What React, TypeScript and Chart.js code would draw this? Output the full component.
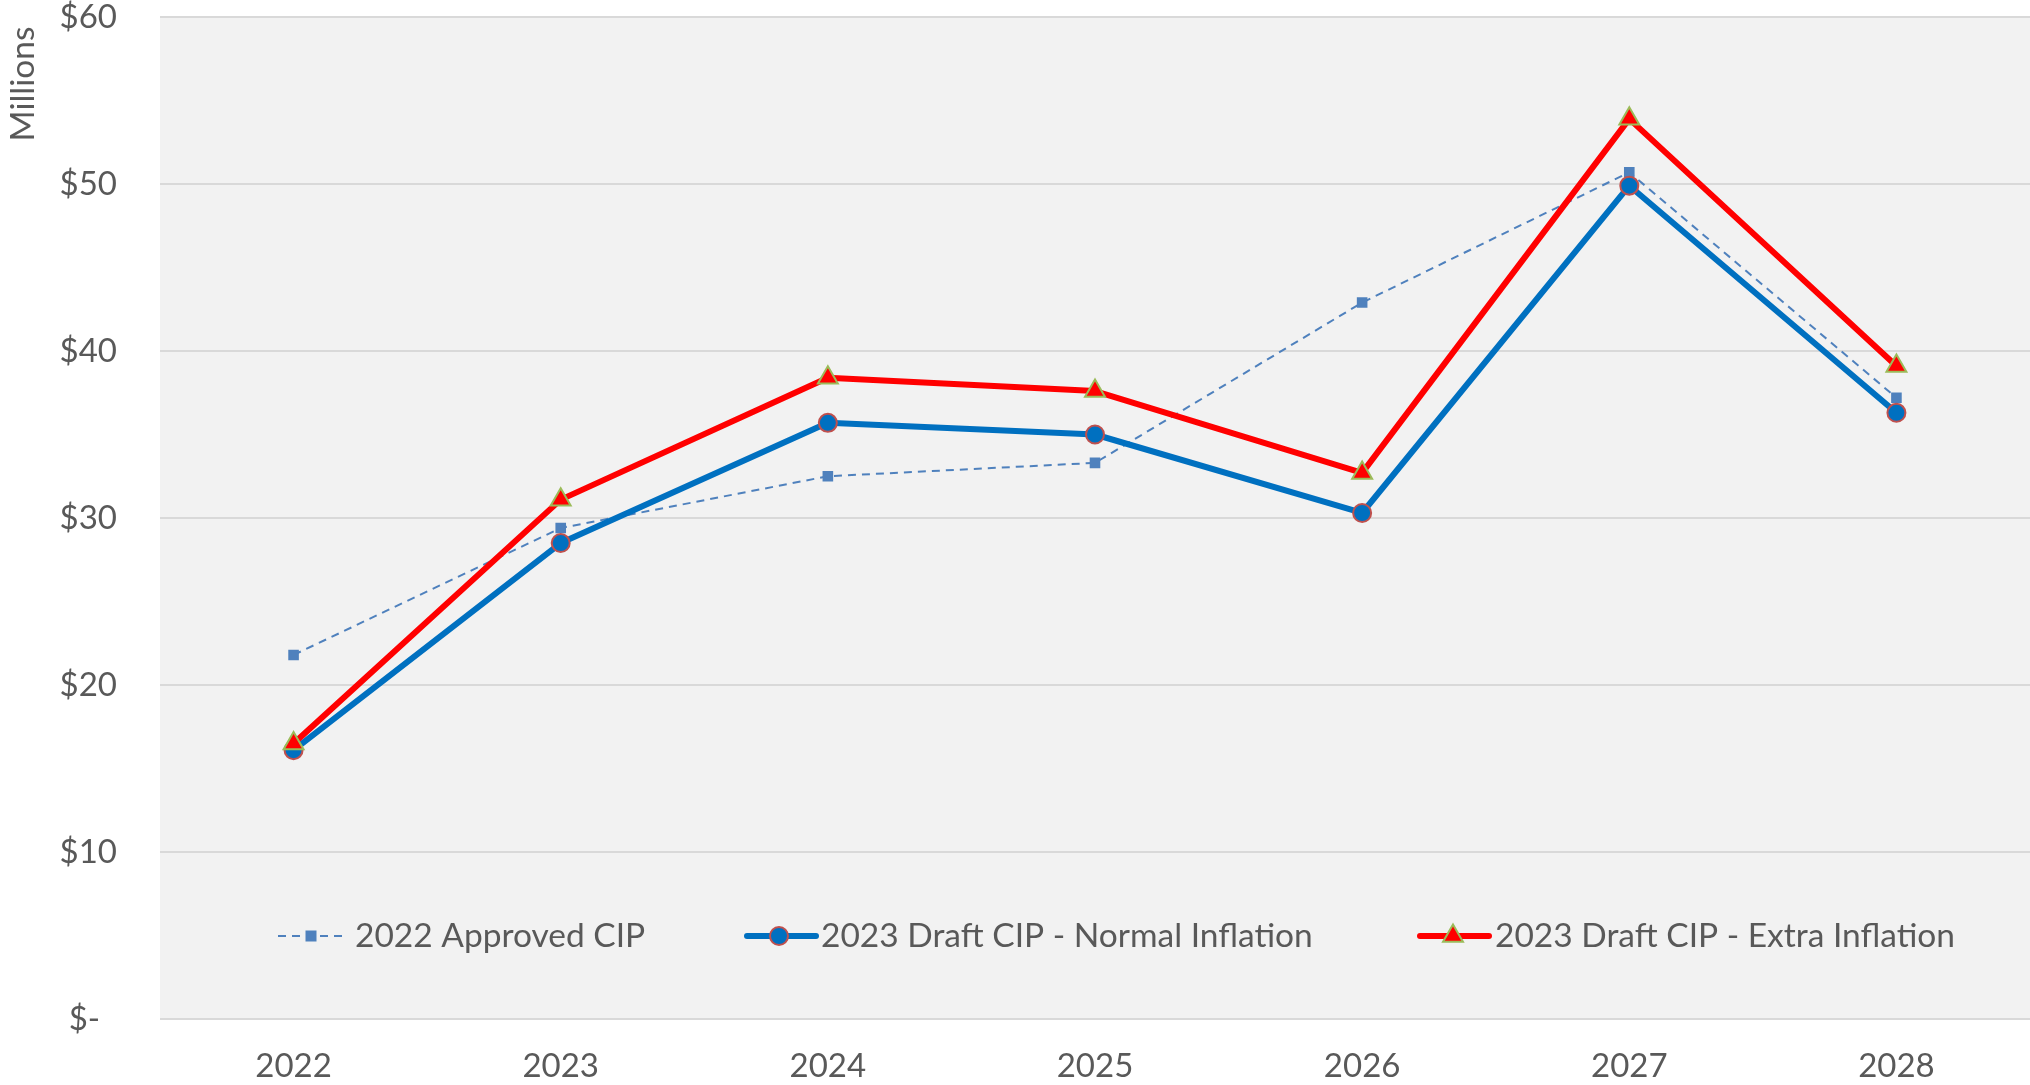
import React, { useEffect, useRef } from 'react';
import { Chart, registerables } from 'chart.js';

Chart.register(...registerables);

const years = ['2022', '2023', '2024', '2025', '2026', '2027', '2028'];
const approved2022 = [21.8, 29.4, 32.5, 33.3, 42.9, 50.7, 37.2];
const draftNormal = [16.1, 28.5, 35.7, 35.0, 30.3, 49.9, 36.3];
const draftExtra = [16.5, 31.1, 38.4, 37.6, 32.7, 53.9, 39.1];
const seriesNames = ['2022 Approved CIP', '2023 Draft CIP - Normal Inflation', '2023 Draft CIP - Extra Inflation'];
const yMin = 0;
const yMax = 60;
const yStep = 10;
const yAxisTitle = 'Millions';

const FONT = 'Lato, "Open Sans", sans-serif';
const TEXT = '#595959';

function drawMarker(ctx: CanvasRenderingContext2D, kind: string, x: number, y: number) {
  ctx.save();
  ctx.setLineDash([]);
  if (kind === 'rect') {
    ctx.fillStyle = '#4F81BD';
    ctx.fillRect(x - 5.5, y - 5.5, 11, 11);
  } else if (kind === 'circle') {
    ctx.beginPath();
    ctx.arc(x, y, 9, 0, Math.PI * 2);
    ctx.fillStyle = '#0070C0';
    ctx.fill();
    ctx.lineWidth = 2;
    ctx.strokeStyle = '#C0504D';
    ctx.stroke();
  } else {
    const r = 11.5;
    ctx.beginPath();
    ctx.moveTo(x, y - r);
    ctx.lineTo(x + r * 0.866, y + r * 0.5);
    ctx.lineTo(x - r * 0.866, y + r * 0.5);
    ctx.closePath();
    ctx.fillStyle = '#FF0000';
    ctx.fill();
    ctx.lineWidth = 2;
    ctx.strokeStyle = '#9BBB59';
    ctx.stroke();
  }
  ctx.restore();
}

const bgPlugin = {
  id: 'bgPlugin',
  beforeDraw(chart: any) {
    const { ctx, chartArea } = chart;
    ctx.save();
    ctx.fillStyle = '#FFFFFF';
    ctx.fillRect(0, 0, chart.width, chart.height);
    ctx.fillStyle = '#F2F2F2';
    ctx.fillRect(chartArea.left, chartArea.top, chartArea.right - chartArea.left, chartArea.bottom - chartArea.top);
    ctx.restore();
  },
  afterDraw(chart: any) {
    const { ctx } = chart;
    ctx.save();
    ctx.translate(23, 84);
    ctx.rotate(-Math.PI / 2);
    ctx.font = `33.5px ${FONT}`;
    ctx.fillStyle = TEXT;
    ctx.textAlign = 'center';
    ctx.textBaseline = 'middle';
    ctx.fillText(yAxisTitle, 0, 0);
    ctx.restore();
  },
};

const legendPlugin = {
  id: 'customLegend',
  afterDatasetsDraw(chart: any) {
    const { ctx } = chart;
    const y = 936;
    const items = [
      { x0: 278, x1: 343, mx: 311, tx: 355, color: '#4F81BD', width: 2, dash: [8, 6], marker: 'rect' },
      { x0: 747, x1: 816, mx: 779, tx: 821, color: '#0070C0', width: 6, dash: [], marker: 'circle' },
      { x0: 1420, x1: 1489, mx: 1453, tx: 1495, color: '#FF0000', width: 6, dash: [], marker: 'triangle' },
    ];
    ctx.save();
    items.forEach((it, i) => {
      ctx.beginPath();
      ctx.setLineDash(it.dash);
      ctx.lineWidth = it.width;
      ctx.strokeStyle = it.color;
      ctx.lineCap = it.dash.length ? 'butt' : 'round';
      ctx.moveTo(it.x0, y);
      ctx.lineTo(it.x1, y);
      ctx.stroke();
      drawMarker(ctx, it.marker, it.mx, y);
      ctx.setLineDash([]);
      ctx.font = `33.5px ${FONT}`;
      ctx.fillStyle = TEXT;
      ctx.textAlign = 'left';
      ctx.textBaseline = 'middle';
      ctx.fillText(seriesNames[i], it.tx, y);
    });
    ctx.restore();
  },
};

export default function App() {
  const ref = useRef<HTMLCanvasElement | null>(null);
  useEffect(() => {
    if (!ref.current) return;
    const chart = new Chart(ref.current, {
      type: 'line',
      data: {
        labels: years,
        datasets: [
          {
            label: seriesNames[0],
            data: approved2022,
            borderColor: '#4F81BD',
            backgroundColor: '#4F81BD',
            borderWidth: 2,
            borderDash: [8, 6],
            pointStyle: 'rect',
            pointRadius: 7.5,
            pointBorderWidth: 0,
            pointBackgroundColor: '#4F81BD',
            tension: 0,
            order: 2,
          },
          {
            label: seriesNames[1],
            data: draftNormal,
            borderColor: '#0070C0',
            backgroundColor: '#0070C0',
            borderWidth: 6,
            borderJoinStyle: 'round',
            borderCapStyle: 'round',
            pointStyle: 'circle',
            pointRadius: 9,
            pointBorderWidth: 2,
            pointBorderColor: '#C0504D',
            pointBackgroundColor: '#0070C0',
            tension: 0,
            order: 1,
          },
          {
            label: seriesNames[2],
            data: draftExtra,
            borderColor: '#FF0000',
            backgroundColor: '#FF0000',
            borderWidth: 6,
            borderJoinStyle: 'round',
            borderCapStyle: 'round',
            pointStyle: 'triangle',
            pointRadius: 11.5,
            pointBorderWidth: 2,
            pointBorderColor: '#9BBB59',
            pointBackgroundColor: '#FF0000',
            tension: 0,
            order: 0,
          },
        ],
      },
      options: {
        animation: false,
        responsive: false,
        devicePixelRatio: 1,
        layout: { autoPadding: false, padding: { top: 17, left: 0, right: 0, bottom: 0 } },
        plugins: { legend: { display: false }, tooltip: { enabled: false } },
        scales: {
          x: {
            offset: true,
            grid: { display: false, drawTicks: false },
            border: { display: false },
            ticks: { color: TEXT, font: { family: FONT, size: 33, lineHeight: 1 }, padding: 31, maxRotation: 0 },
            afterFit: (s: any) => {
              s.height = 66;
              s.paddingLeft = 0;
              s.paddingRight = 0;
            },
          },
          y: {
            min: yMin,
            max: yMax,
            grid: { color: '#D9D9D9', lineWidth: 2, drawTicks: false },
            border: { display: false },
            ticks: {
              stepSize: yStep,
              color: TEXT,
              padding: 43,
              font: { family: FONT, size: 33, lineHeight: 1 },
              callback: (v: any) => (Number(v) === 0 ? '$-  ' : '$' + v),
            },
            afterFit: (s: any) => {
              s.width = 160;
              s.paddingTop = 0;
              s.paddingBottom = 0;
            },
          },
        },
      },
      plugins: [bgPlugin, legendPlugin],
    });
    return () => chart.destroy();
  }, []);
  return (
    <div style={{ position: 'absolute', left: 0, top: 0, width: 2030, height: 1085 }}>
      <canvas ref={ref} width={2030} height={1085} style={{ display: 'block' }} />
    </div>
  );
}
